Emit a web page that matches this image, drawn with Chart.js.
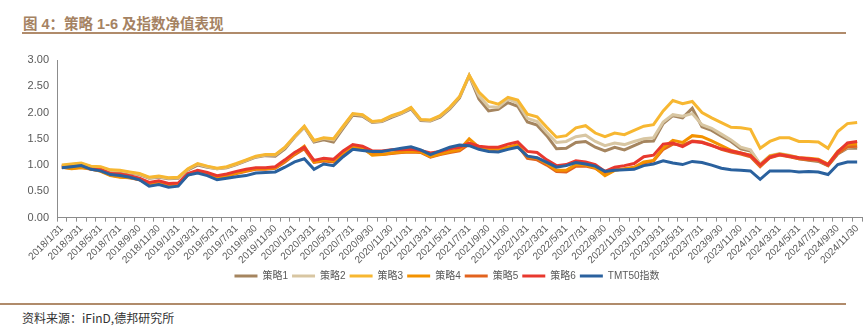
<!DOCTYPE html>
<html>
<head>
<meta charset="utf-8">
<script src="https://cdn.jsdelivr.net/npm/chart.js@4/dist/chart.umd.min.js"></script>
<style>
  html, body { margin: 0; padding: 0; background: #fff; }
  body { width: 867px; height: 330px; position: relative; overflow: hidden; font-family: "Liberation Sans", "Noto Sans CJK SC", sans-serif; }
  #title { position: absolute; left: 23px; top: 12px; font-size: 14.5px; font-weight: bold; color: #A58262; font-family: "Liberation Sans", "Noto Sans CJK SC", sans-serif; white-space: nowrap; }
  #topline { position: absolute; left: 22px; top: 32px; width: 824px; height: 2px; background: #B08B6B; }
  #botline { position: absolute; left: 0px; top: 303px; width: 846px; height: 1.5px; background: #B08B6B; }
  #source { position: absolute; left: 22px; top: 309px; font-size: 12px; color: #333; white-space: nowrap; font-family: "Noto Sans CJK SC", "Liberation Sans", sans-serif; }
  #wrap { position: absolute; left: 0; top: 40px; width: 867px; height: 260px; }
</style>
</head>
<body>
<div id="title">图 4：策略 1-6 及指数净值表现</div>
<div id="topline"></div>
<div id="wrap"><canvas id="c"></canvas></div>
<div id="botline"></div>
<div id="source">资料来源：iFinD,德邦研究所</div>
<script>
const categories = [
  "2018/1/31","2018/2/28","2018/3/31","2018/4/30","2018/5/31","2018/6/30","2018/7/31","2018/8/31","2018/9/30","2018/10/31","2018/11/30","2018/12/31",
  "2019/1/31","2019/2/28","2019/3/31","2019/4/30","2019/5/31","2019/6/30","2019/7/31","2019/8/31","2019/9/30","2019/10/31","2019/11/30","2019/12/31",
  "2020/1/31","2020/2/29","2020/3/31","2020/4/30","2020/5/31","2020/6/30","2020/7/31","2020/8/31","2020/9/30","2020/10/31","2020/11/30","2020/12/31",
  "2021/1/31","2021/2/28","2021/3/31","2021/4/30","2021/5/31","2021/6/30","2021/7/31","2021/8/31","2021/9/30","2021/10/31","2021/11/30","2021/12/31",
  "2022/1/31","2022/2/28","2022/3/31","2022/4/30","2022/5/31","2022/6/30","2022/7/31","2022/8/31","2022/9/30","2022/10/31","2022/11/30","2022/12/31",
  "2023/1/31","2023/2/28","2023/3/31","2023/4/30","2023/5/31","2023/6/30","2023/7/31","2023/8/31","2023/9/30","2023/10/31","2023/11/30","2023/12/31",
  "2024/1/31","2024/2/29","2024/3/31","2024/4/30","2024/5/31","2024/6/30","2024/7/31","2024/8/31","2024/9/30","2024/10/31","2024/11/30"
];
const seriesNames = ["策略1","策略2","策略3","策略4","策略5","策略6","TMT50指数"];
const strategy1 = [
  0.98,1.00,1.02,0.96,0.95,0.89,0.88,0.85,0.82,0.75, 0.77,0.74,0.75,0.91,1.00,0.96,0.93,0.95,1.01,1.08,
  1.15,1.18,1.17,1.31,1.53,1.72,1.44,1.48,1.44,1.70, 1.95,1.93,1.81,1.83,1.91,1.98,2.07,1.85,1.84,1.91,
  2.07,2.28,2.70,2.26,2.03,2.06,2.19,2.12,1.82,1.76, 1.56,1.31,1.32,1.43,1.45,1.34,1.27,1.34,1.29,1.37,
  1.45,1.46,1.79,1.94,1.90,2.08,1.73,1.66,1.55,1.45, 1.31,1.27,1.01,1.16,1.20,1.17,1.12,1.09,1.07,0.99,
  1.21,1.32,1.32];
const strategy2 = [
  0.99,1.01,1.03,0.97,0.96,0.90,0.89,0.86,0.83,0.76, 0.78,0.75,0.76,0.92,1.02,0.97,0.93,0.96,1.02,1.09,
  1.16,1.19,1.19,1.33,1.54,1.73,1.46,1.51,1.48,1.73, 1.97,1.95,1.82,1.84,1.93,1.99,2.09,1.86,1.85,1.93,
  2.09,2.30,2.71,2.32,2.11,2.10,2.26,2.18,1.89,1.83, 1.62,1.43,1.45,1.54,1.57,1.45,1.37,1.42,1.39,1.45,
  1.50,1.52,1.82,1.96,1.93,1.98,1.77,1.70,1.59,1.48, 1.34,1.29,1.02,1.18,1.22,1.19,1.14,1.11,1.09,1.01,
  1.23,1.34,1.36];
const strategy3 = [
  1.00,1.02,1.04,0.98,0.97,0.91,0.90,0.87,0.84,0.77, 0.79,0.76,0.77,0.93,1.03,0.98,0.94,0.97,1.03,1.10,
  1.17,1.20,1.20,1.34,1.55,1.74,1.47,1.52,1.50,1.74, 1.98,1.96,1.83,1.85,1.94,2.00,2.10,1.87,1.86,1.94,
  2.10,2.30,2.71,2.39,2.21,2.16,2.29,2.24,1.97,1.92, 1.72,1.53,1.56,1.71,1.75,1.61,1.54,1.61,1.58,1.66,
  1.74,1.77,2.03,2.23,2.17,2.21,2.00,1.90,1.81,1.72, 1.71,1.68,1.32,1.45,1.52,1.52,1.45,1.45,1.44,1.32,
  1.64,1.79,1.81];
const strategy4 = [
  0.96,0.93,0.95,0.93,0.88,0.80,0.77,0.76,0.73,0.65, 0.67,0.62,0.64,0.82,0.89,0.84,0.77,0.80,0.85,0.89,
  0.93,0.93,0.95,1.08,1.22,1.36,1.06,1.10,1.08,1.24, 1.36,1.33,1.19,1.20,1.23,1.25,1.26,1.25,1.16,1.21,
  1.26,1.29,1.50,1.34,1.31,1.31,1.34,1.39,1.16,1.13, 1.03,0.90,0.90,1.01,1.00,0.95,0.80,0.90,0.93,0.96,
  1.06,1.09,1.33,1.47,1.43,1.56,1.54,1.46,1.37,1.28, 1.23,1.19,1.00,1.17,1.21,1.18,1.14,1.13,1.11,1.02,
  1.26,1.40,1.40];
const strategy5 = [
  0.96,0.94,0.96,0.92,0.89,0.81,0.78,0.76,0.72,0.64, 0.66,0.62,0.63,0.81,0.88,0.83,0.76,0.79,0.84,0.88,
  0.92,0.92,0.94,1.06,1.20,1.31,1.05,1.08,1.06,1.22, 1.34,1.32,1.20,1.20,1.22,1.24,1.25,1.24,1.15,1.20,
  1.24,1.27,1.40,1.32,1.29,1.30,1.33,1.37,1.13,1.10, 1.00,0.88,0.87,0.98,0.98,0.94,0.82,0.91,0.92,0.95,
  1.04,1.08,1.30,1.40,1.38,1.46,1.44,1.38,1.30,1.25, 1.21,1.16,0.97,1.14,1.19,1.16,1.12,1.10,1.09,0.99,
  1.22,1.35,1.36];
const strategy6 = [
  0.97,0.99,1.00,0.95,0.92,0.84,0.83,0.80,0.75,0.67, 0.70,0.65,0.66,0.84,0.90,0.86,0.80,0.83,0.88,0.92,
  0.95,0.95,0.97,1.10,1.24,1.34,1.09,1.13,1.11,1.27, 1.39,1.36,1.27,1.27,1.29,1.29,1.30,1.28,1.23,1.26,
  1.31,1.34,1.42,1.36,1.34,1.34,1.40,1.44,1.26,1.24, 1.10,0.99,1.01,1.08,1.06,1.01,0.88,0.96,0.99,1.03,
  1.16,1.19,1.40,1.42,1.35,1.45,1.43,1.37,1.31,1.27, 1.23,1.18,1.00,1.15,1.20,1.17,1.14,1.12,1.10,1.01,
  1.25,1.42,1.45];
const tmt50 = [
  0.95,0.97,0.99,0.92,0.89,0.82,0.80,0.77,0.72,0.60, 0.63,0.58,0.60,0.81,0.85,0.80,0.72,0.75,0.78,0.80,
  0.85,0.86,0.87,0.96,1.06,1.12,0.92,1.02,0.99,1.16, 1.30,1.28,1.26,1.26,1.29,1.32,1.35,1.29,1.20,1.27,
  1.34,1.38,1.37,1.30,1.26,1.25,1.30,1.34,1.17,1.14, 1.05,0.96,0.99,1.05,1.02,0.98,0.88,0.90,0.91,0.92,
  0.99,1.02,1.08,1.04,1.01,1.07,1.05,1.00,0.94,0.91, 0.90,0.89,0.73,0.89,0.89,0.89,0.87,0.88,0.87,0.82,
  1.01,1.06,1.06];
const yTicks = [0, 0.5, 1.0, 1.5, 2.0, 2.5, 3.0];

const colors = ["#A5855F", "#D8C6A2", "#F7B731", "#F39200", "#E2631E", "#E8382E", "#2A619E"];
const drawOrder = [5, 4, 1, 3, 3, 2, 0];
const allSeries = [strategy1, strategy2, strategy3, strategy4, strategy5, strategy6, tmt50];

const datasets = allSeries.map((d, i) => ({
  label: seriesNames[i],
  data: d,
  borderColor: colors[i],
  backgroundColor: colors[i],
  borderWidth: 3,
  pointRadius: 0,
  tension: 0,
  order: drawOrder[i]
}));

const shiftLegend = {
  id: 'shiftLegend',
  afterLayout(chart) {
    if (chart.legend) { chart.legend.left += 16; chart.legend.right += 16; }
  }
};

new Chart(document.getElementById('c'), {
  type: 'line',
  data: { labels: categories, datasets },
  plugins: [shiftLegend],
  options: {
    responsive: true,
    maintainAspectRatio: false,
    animation: false,
    layout: { padding: { top: 20, right: 5, left: 0, bottom: 9 } },
    plugins: {
      tooltip: { enabled: false },
      legend: {
        position: 'bottom',
        labels: {
          boxWidth: 23,
          boxHeight: 3,
          padding: 4,
          color: '#595959',
          font: { size: 10, family: '"Liberation Sans", "Noto Sans CJK SC", sans-serif' },
          sort: (a, b) => a.datasetIndex - b.datasetIndex,
          generateLabels(chart) {
            const items = Chart.defaults.plugins.legend.labels.generateLabels(chart);
            items.forEach(it => { it.lineWidth = 0; it.fillStyle = it.strokeStyle; });
            return items;
          }
        }
      }
    },
    scales: {
      x: {
        offset: true,
        grid: { display: true, drawOnChartArea: false, drawTicks: true, tickLength: 4, color: '#8c8c8c', offset: true },
        border: { display: true, color: '#8c8c8c' },
        ticks: {
          autoSkip: false,
          maxRotation: 45,
          minRotation: 45,
          padding: 1,
          color: '#595959',
          font: { size: 10, family: '"Liberation Sans", sans-serif' },
          callback: function(v, i) { return i % 2 === 0 ? categories[i] : ''; }
        }
      },
      y: {
        min: 0,
        max: 3,
        afterBuildTicks: (s) => { s.ticks = yTicks.map(v => ({ value: v })); },
        afterFit: (s) => { s.width = 57; },
        grid: { display: false, drawTicks: false },
        border: { display: true, color: '#8c8c8c' },
        ticks: {
          padding: 8,
          color: '#595959',
          font: { size: 11, family: '"Liberation Sans", sans-serif' },
          callback: (v) => Number(v).toFixed(2)
        }
      }
    }
  }
});
</script>
</body>
</html>
